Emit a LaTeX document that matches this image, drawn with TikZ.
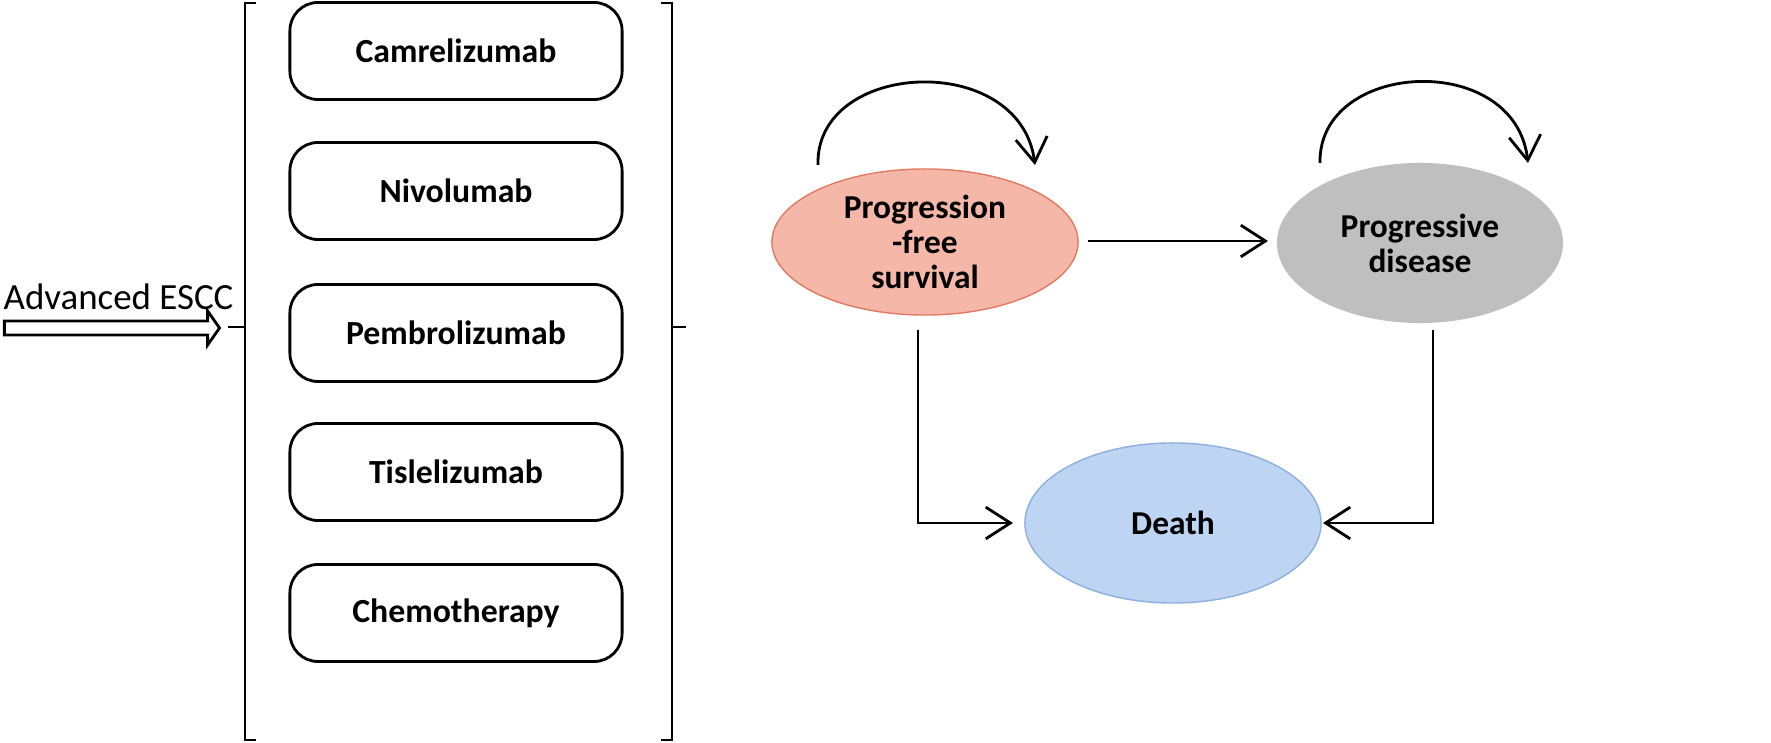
\documentclass[tikz,border=0pt]{standalone}
\usepackage{fontspec}
\setmainfont{Carlito}
\usetikzlibrary{arrows.meta,positioning,shapes.geometric,shapes.arrows}
\definecolor{pfscolor}{HTML}{F5B7A8}
\definecolor{pfsedge}{HTML}{E27A62}
\definecolor{pdcolor}{HTML}{BFBFBF}
\definecolor{deathcolor}{HTML}{BDD4F2}
\definecolor{deathedge}{HTML}{8DB0E0}
\begin{document}
\begin{tikzpicture}[x=0.01cm,y=-0.01cm,
  armbox/.style={draw, thick, rounded corners=8pt, minimum width=3.32cm,
               minimum height=0.97cm, font=\fontsize{9.6}{11}\selectfont\bfseries},
  state/.style={ellipse, inner sep=0pt, font=\fontsize{9.5}{10}\selectfont\bfseries, align=center},
  arrow/.style={-{Straight Barb[length=7pt,width=9pt]}, thick},
  brk/.style={thick},
]
  \useasboundingbox (0,0) rectangle (1771,743);
  % treatment arms
  \node[armbox] (cam) at (456, 51) {Camrelizumab};
  \node[armbox] (niv) at (456, 191) {Nivolumab};
  \node[armbox] (pem) at (456, 333) {Pembrolizumab};
  \node[armbox] (tis) at (456, 472) {Tislelizumab};
  \node[armbox] (che) at (456, 613) {Chemotherapy};

  % brackets
  \draw[brk] (256,3) -- (245,3) -- (245,740) -- (256,740);
  \draw[brk] (228,327) -- (245,327);
  \draw[brk] (661,3) -- (672,3) -- (672,740) -- (661,740);
  \draw[brk] (672,327) -- (686,327);

  % input arrow
  \node[font=\fontsize{10.5}{12}\selectfont, anchor=west, inner sep=0pt] (escc) at (3,297) {Advanced ESCC};
  \node[single arrow, draw, thick, minimum height=2.15cm, minimum width=0.34cm,
        single arrow head extend=0.02cm, single arrow tip angle=110, inner sep=0pt, anchor=tail] (inp) at (3,328) {};

  % Markov states
  \node[state, draw=pfsedge, fill=pfscolor, minimum width=3.06cm, minimum height=1.46cm] (pfs) at (925,242) {Progression\\-free\\survival};
  \node[state, fill=pdcolor, minimum width=2.86cm, minimum height=1.6cm] (pd) at (1420,243) {Progressive\\disease};
  \node[state, draw=deathedge, fill=deathcolor, minimum width=2.96cm, minimum height=1.6cm] (death) at (1173,523) {Death};

  \coordinate (pfsd) at (918,330);
  \coordinate (pdd) at (1433,330);
  \draw[arrow] (1088,241) -- (1268,241);
  \draw[arrow] (pfsd) |- (1013,523);
  \draw[arrow] (pdd) |- (1323,523);

  % self loops
  \draw[arrow] (818,165) .. controls (815,60) and (1020,50) .. (1035,165);
  \draw[arrow] (1320,163) .. controls (1318,60) and (1515,50) .. (1528,163);
\end{tikzpicture}
\end{document}
